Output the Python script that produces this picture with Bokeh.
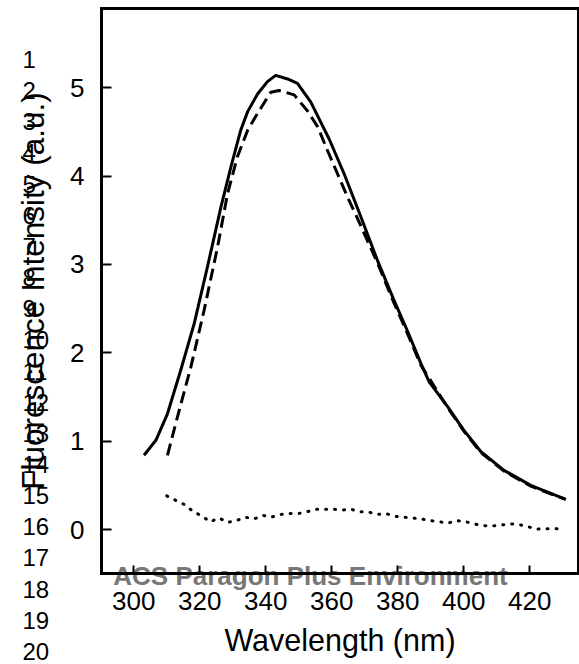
from bokeh.plotting import figure
from bokeh.models import Range1d, FixedTicker, Label, LinearAxis
from bokeh.embed import file_html
from bokeh.resources import INLINE

# ---- data ----
solid_wl = [303.1, 306.7, 310.2, 314.2, 318.3, 322.3, 326.4, 329.4, 332.4, 334.5, 337.5,
            340.5, 343.0, 346.6, 349.6, 353.6, 359.2, 363.7, 368.8, 373.8, 378.9, 382.9,
            387.0, 389.5, 395.1, 400.1, 405.2, 412.2, 420.3, 430.9]
solid_int = [0.84, 1.01, 1.31, 1.80, 2.33, 2.97, 3.65, 4.10, 4.52, 4.73, 4.93,
             5.07, 5.14, 5.10, 5.05, 4.84, 4.42, 4.03, 3.54, 3.05, 2.59, 2.25,
             1.88, 1.67, 1.39, 1.12, 0.88, 0.67, 0.50, 0.34]

dash_wl = [310.2, 313.2, 317.3, 321.3, 325.4, 328.4, 331.4, 334.5, 337.5, 341.5, 344.0,
           348.6, 352.6, 355.7, 358.7, 361.7, 364.8, 367.8, 373.8, 378.9, 382.9, 387.0,
           395.1, 400.1, 405.2, 412.2, 420.3, 430.9]
dash_int = [0.84, 1.27, 1.84, 2.48, 3.20, 3.80, 4.22, 4.52, 4.71, 4.95, 4.97,
            4.92, 4.74, 4.56, 4.29, 4.03, 3.76, 3.52, 3.02, 2.56, 2.22, 1.86,
            1.38, 1.11, 0.87, 0.66, 0.49, 0.34]

dot_wl = [310.0, 312.7, 315.5, 318.1, 320.6, 323.1, 325.9, 328.4, 331.1, 333.7, 336.5,
          339.1, 341.7, 344.3, 347.1, 349.8, 352.4, 355.2, 357.9, 360.5, 363.0, 365.8,
          368.4, 371.0, 373.6, 376.4, 379.1, 381.7, 384.4, 387.2, 389.8, 392.5, 395.0,
          397.8, 400.4, 403.1, 405.8, 408.5, 411.2, 413.9, 416.6, 419.3, 422.0, 424.6,
          427.4, 430.0]
dot_int = [0.38, 0.33, 0.28, 0.20, 0.155, 0.087, 0.13, 0.08, 0.10, 0.14, 0.12,
           0.16, 0.14, 0.17, 0.18, 0.18, 0.20, 0.23, 0.23, 0.23, 0.22, 0.23,
           0.20, 0.20, 0.17, 0.18, 0.15, 0.14, 0.13, 0.12, 0.10, 0.09, 0.07,
           0.10, 0.09, 0.064, 0.045, 0.04, 0.05, 0.064, 0.057, 0.034, 0.004, 0.01,
           0.01, 0.004]

x_ticks = [300, 320, 340, 360, 380, 400, 420]
y_ticks = [0, 1, 2, 3, 4, 5]
line_numbers = [str(i) for i in range(1, 21)]

x_title = "Wavelength (nm)"
y_title = "Fluorescence Intensity (a.u.)"
watermark = "ACS Paragon Plus Environment"

FONT = "Liberation Sans"

# ---- layout: the frame covers the whole canvas; the visible box is drawn by axes ----
W, H = 579, 664
# full-canvas ranges (page px 0..579 and 0..664)
XS, XE = 259.61, 435.06
YS, YE = -1.528, 5.988
# the plotting box (data units)
BX0, BX1 = 290.21, 434.70
BY0, BY1 = -0.498, 5.898

p = figure(width=W, height=H, output_backend="svg", toolbar_location=None,
           x_range=Range1d(XS, XE), y_range=Range1d(YS, YE),
           min_border=0, min_border_left=0, min_border_right=0,
           min_border_top=0, min_border_bottom=0)
p.title.visible = False
p.background_fill_color = "white"
p.border_fill_color = "white"
p.grid.visible = False
p.outline_line_color = None

def style(ax):
    ax.axis_line_width = 3
    ax.axis_line_color = "black"
    ax.axis_line_cap = "square"
    ax.major_tick_line_width = 2
    ax.major_tick_line_color = "black"
    ax.minor_tick_line_color = None
    ax.major_tick_out = 0
    ax.major_label_text_font = FONT
    ax.major_label_text_font_size = "26px"
    ax.major_label_text_color = "black"
    ax.axis_label_text_font = FONT
    ax.axis_label_text_font_style = "normal"
    ax.axis_label_text_color = "black"

xa = p.xaxis[0]
ya = p.yaxis[0]
style(xa)
style(ya)
xa.fixed_location = BY0
ya.fixed_location = BX0
xa.bounds = (BX0, BX1)
ya.bounds = (BY0, BY1)
xa.ticker = FixedTicker(ticks=x_ticks)
ya.ticker = FixedTicker(ticks=y_ticks)
xa.major_tick_in = 8
ya.major_tick_in = 10
xa.major_label_standoff = 18
ya.major_label_standoff = 17
xa.axis_label = x_title
ya.axis_label = y_title
xa.axis_label_text_font_size = "30.5px"
ya.axis_label_text_font_size = "31.5px"
xa.axis_label_standoff = 10
ya.axis_label_standoff = 16

# top and right edges of the box
top = LinearAxis(fixed_location=BY1, bounds=(BX0, BX1), ticker=FixedTicker(ticks=[]))
right = LinearAxis(fixed_location=BX1, bounds=(BY0, BY1), ticker=FixedTicker(ticks=[]))
for ax in (top, right):
    style(ax)
    ax.major_tick_line_color = None
    ax.major_label_text_alpha = 0
p.add_layout(top, "above")
p.add_layout(right, "right")

p.line(solid_wl, solid_int, line_color="black", line_width=3, line_join="round")
p.line(dash_wl, dash_int, line_color="black", line_width=3, line_dash="12 6")
p.line(dot_wl, dot_int, line_color="black", line_width=3, line_dash="1 8",
       line_cap="round")

# manuscript line numbers and watermark (screen units: from left, from bottom)
for i, t in enumerate(line_numbers):
    p.add_layout(Label(x=22, y=H - (59 + 31.15 * i), text=t,
                       x_units="screen", y_units="screen",
                       text_font=FONT, text_font_size="24px", text_color="black",
                       text_align="left", text_baseline="middle"))

p.add_layout(Label(x=310, y=H - 575, text=watermark,
                   x_units="screen", y_units="screen", level="underlay",
                   text_font=FONT, text_font_size="26px", text_font_style="bold",
                   text_color="#777777", text_align="center", text_baseline="middle"))

open("out.html", "w").write(file_html(p, INLINE))
